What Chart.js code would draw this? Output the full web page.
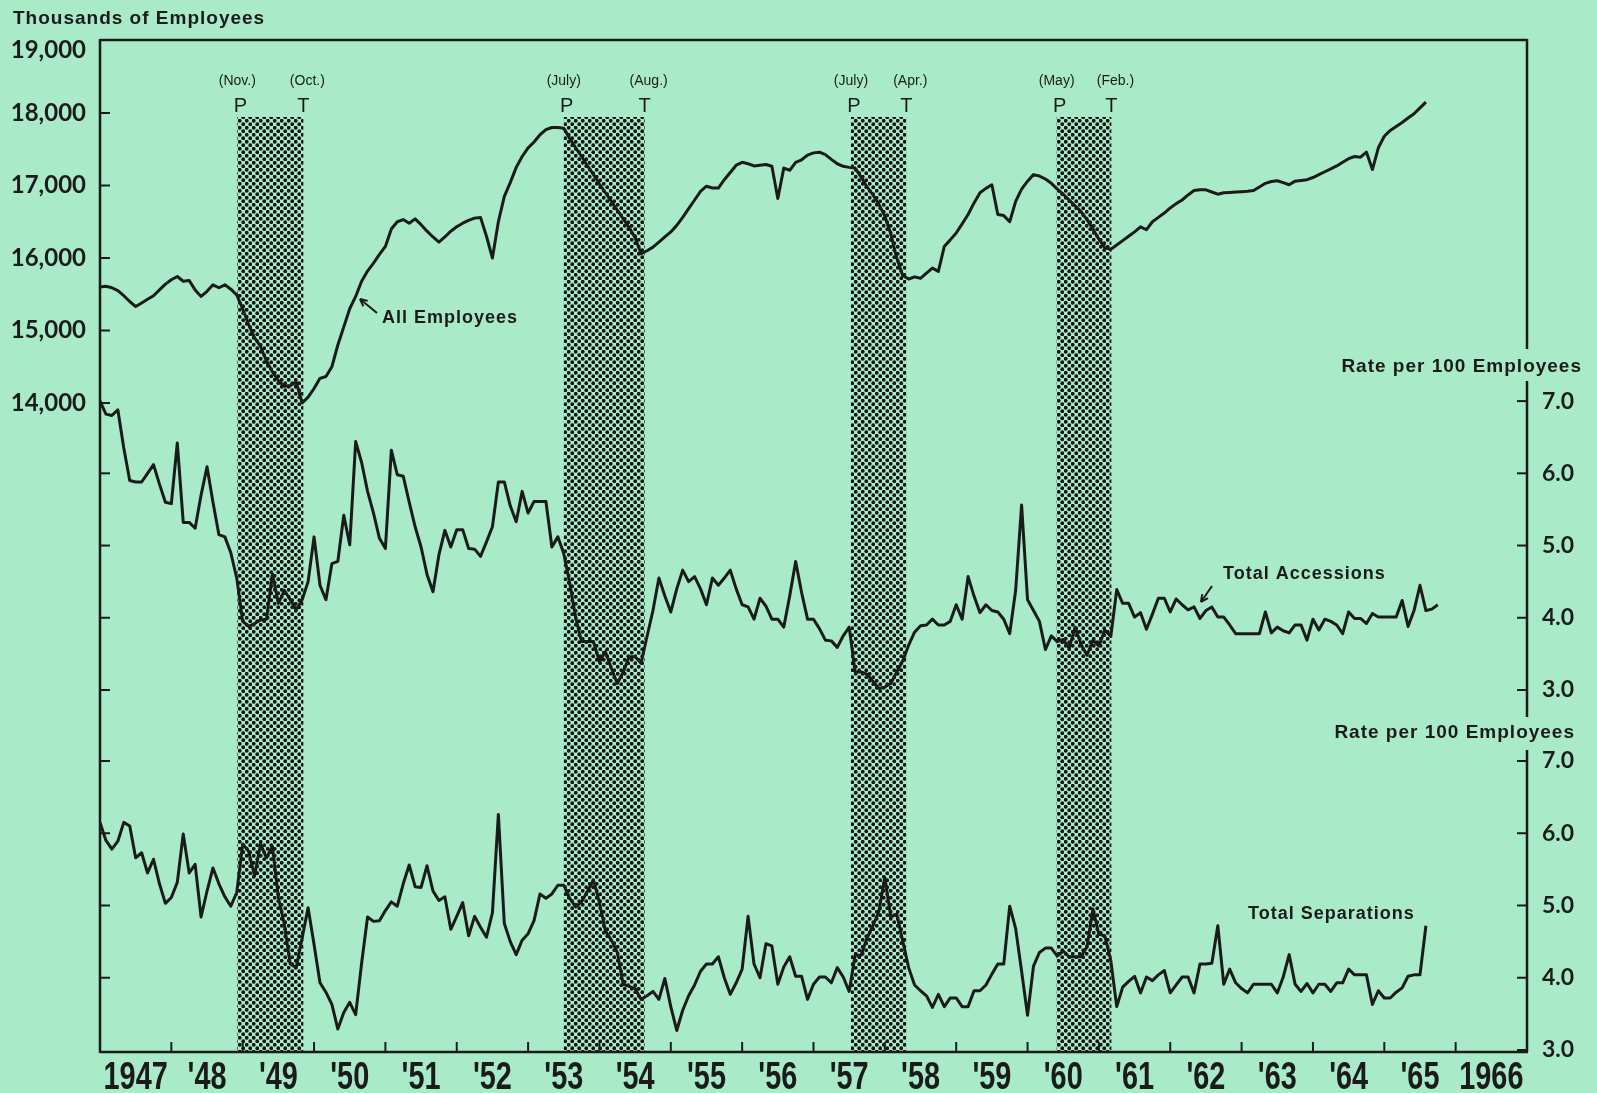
<!DOCTYPE html>
<html lang="en">
<head>
<meta charset="UTF-8">
<title>Employees, Accessions and Separations 1947-1965</title>
<script src="https://cdn.jsdelivr.net/npm/chart.js"></script>
<style>
  html, body {
    margin: 0;
    padding: 0;
    background: #a9ebc9;
  }
  #chart { display: block; }
</style>
</head>
<body>
<canvas id="chart" width="1597" height="1093"></canvas>
<script>
// x axis runs in months counted from Jan 1947 (0) to Jan 1967 (240)
const yearLabels = ['1947', "'48", "'49", "'50", "'51", "'52", "'53", "'54", "'55", "'56",
  "'57", "'58", "'59", "'60", "'61", "'62", "'63", "'64", "'65", '1966'];

// thousands of employees, monthly from Jan 1947
const employees = [
  15600, 15610, 15590, 15550, 15480, 15400, 15330, 15380, 15430, 15480, 15560, 15640,
  15700, 15745, 15680, 15690, 15560, 15470, 15540, 15630, 15590, 15630, 15570, 15490,
  15300, 15080, 14900, 14780, 14580, 14430, 14310, 14230, 14240, 14290, 14000, 14080,
  14200, 14340, 14365, 14500, 14800, 15050, 15300, 15470, 15680, 15820, 15930, 16050,
  16160, 16400, 16500, 16530, 16480, 16540, 16460, 16370, 16290, 16220, 16290, 16370,
  16430, 16480, 16520, 16550, 16560, 16300, 16000, 16500, 16850, 17040, 17250, 17400,
  17520, 17600, 17700, 17770, 17800, 17800, 17790, 17650, 17520, 17400, 17270, 17150,
  17020, 16900, 16780, 16660, 16540, 16420, 16280, 16060, 16100, 16150, 16220, 16290,
  16360, 16450, 16560, 16680, 16800, 16920, 16990, 16965, 16965, 17080, 17180, 17280,
  17320, 17300, 17270, 17280, 17290, 17265, 16820, 17240, 17210, 17320, 17355, 17420,
  17450, 17460, 17425, 17360, 17300, 17265, 17250, 17240, 17120, 16980, 16870, 16740,
  16580, 16330, 16000, 15760, 15710, 15740, 15720, 15790, 15860, 15815, 16160, 16250,
  16345, 16470, 16600, 16760, 16900, 16960, 17010, 16600, 16585, 16500, 16780, 16950,
  17060, 17150, 17130, 17090, 17030, 16950, 16880, 16800, 16720, 16640, 16530, 16400,
  16260, 16140, 16120, 16180, 16240, 16300, 16360, 16430, 16390, 16500, 16560, 16620,
  16690, 16750, 16800, 16870, 16930, 16940, 16940, 16910, 16880, 16900, 16905, 16910,
  16915, 16920, 16930, 16980, 17030, 17055, 17065, 17040, 17010, 17060, 17070, 17080,
  17110, 17150, 17190, 17230, 17270, 17320, 17370, 17400, 17390, 17460, 17220, 17520,
  17680, 17760, 17815, 17870, 17930, 17990, 18070, 18150
];

// total accessions, rate per 100 employees
const accessions = [
  7.00, 6.82, 6.80, 6.88, 6.35, 5.90, 5.88, 5.88, 6.00, 6.12, 5.85, 5.60,
  5.58, 6.42, 5.32, 5.32, 5.24, 5.70, 6.09, 5.60, 5.15, 5.12, 4.90, 4.55,
  3.95, 3.88, 3.92, 3.97, 3.98, 4.61, 4.20, 4.38, 4.25, 4.11, 4.25, 4.50,
  5.12, 4.45, 4.25, 4.75, 4.78, 5.42, 5.01, 6.44, 6.15, 5.75, 5.45, 5.10,
  4.96, 6.32, 5.98, 5.96, 5.60, 5.26, 4.98, 4.60, 4.36, 4.87, 5.21, 4.98,
  5.22, 5.22, 4.96, 4.95, 4.85, 5.05, 5.26, 5.88, 5.88, 5.55, 5.33, 5.75,
  5.45, 5.61, 5.61, 5.61, 4.98, 5.12, 4.89, 4.48, 4.00, 3.67, 3.67, 3.67,
  3.39, 3.53, 3.30, 3.09, 3.25, 3.46, 3.46, 3.37, 3.74, 4.10, 4.55, 4.30,
  4.08, 4.40, 4.66, 4.50, 4.57, 4.40, 4.18, 4.55, 4.45, 4.55, 4.66, 4.40,
  4.18, 4.15, 3.98, 4.27, 4.16, 3.98, 3.98, 3.87, 4.30, 4.78, 4.35, 3.98,
  3.98, 3.85, 3.69, 3.68, 3.59, 3.75, 3.87, 3.25, 3.25, 3.22, 3.12, 3.02,
  3.04, 3.09, 3.25, 3.40, 3.62, 3.80, 3.89, 3.90, 3.98, 3.90, 3.90, 3.95,
  4.18, 3.98, 4.57, 4.30, 4.07, 4.18, 4.10, 4.08, 3.98, 3.78, 4.38, 5.56,
  4.25, 4.10, 3.95, 3.56, 3.75, 3.67, 3.70, 3.58, 3.87, 3.63, 3.48, 3.69,
  3.61, 3.83, 3.74, 4.39, 4.20, 4.20, 4.01, 4.07, 3.84, 4.05, 4.27, 4.27,
  4.08, 4.26, 4.18, 4.11, 4.15, 3.99, 4.10, 4.15, 4.01, 4.01, 3.90, 3.78,
  3.78, 3.78, 3.78, 3.78, 4.08, 3.79, 3.87, 3.82, 3.79, 3.90, 3.90, 3.69,
  3.98, 3.83, 3.98, 3.95, 3.90, 3.78, 4.08, 3.99, 3.99, 3.92, 4.06, 4.01,
  4.01, 4.01, 4.01, 4.24, 3.88, 4.10, 4.45, 4.10, 4.12, 4.18
];

// total separations, rate per 100 employees
const separations = [
  6.15, 5.90, 5.78, 5.89, 6.15, 6.10, 5.66, 5.73, 5.45, 5.64, 5.30, 5.03,
  5.11, 5.32, 5.99, 5.45, 5.57, 4.84, 5.20, 5.52, 5.30, 5.12, 4.99, 5.18,
  5.85, 5.75, 5.41, 5.85, 5.66, 5.82, 5.11, 4.74, 4.19, 4.14, 4.55, 4.97,
  4.46, 3.93, 3.80, 3.63, 3.29, 3.52, 3.66, 3.49, 4.20, 4.84, 4.78, 4.79,
  4.93, 5.05, 4.99, 5.30, 5.56, 5.26, 5.25, 5.55, 5.20, 5.07, 5.12, 4.67,
  4.85, 5.04, 4.58, 4.85, 4.70, 4.56, 4.90, 6.26, 4.75, 4.50, 4.32, 4.52,
  4.61, 4.79, 5.16, 5.10, 5.16, 5.28, 5.28, 5.10, 4.98, 5.05, 5.20, 5.35,
  5.04, 4.65, 4.52, 4.35, 3.91, 3.88, 3.85, 3.70, 3.75, 3.81, 3.70, 3.99,
  3.60, 3.27, 3.55, 3.75, 3.90, 4.09, 4.19, 4.19, 4.29, 4.00, 3.77, 3.93,
  4.12, 4.85, 4.19, 4.00, 4.47, 4.44, 3.91, 4.15, 4.29, 4.02, 4.02, 3.70,
  3.91, 4.01, 4.01, 3.93, 4.14, 4.01, 3.81, 4.31, 4.31, 4.55, 4.72, 4.92,
  5.39, 4.84, 4.88, 4.51, 4.14, 3.90, 3.82, 3.75, 3.59, 3.77, 3.60, 3.72,
  3.72, 3.60, 3.60, 3.82, 3.82, 3.90, 4.05, 4.19, 4.19, 4.99, 4.68, 4.09,
  3.48, 4.16, 4.35, 4.41, 4.41, 4.30, 4.37, 4.29, 4.29, 4.29, 4.43, 4.95,
  4.60, 4.58, 4.24, 3.60, 3.87, 3.95, 4.02, 3.79, 4.01, 3.96, 4.04, 4.10,
  3.79, 3.90, 4.01, 4.01, 3.79, 4.19, 4.19, 4.20, 4.72, 3.91, 4.12, 3.93,
  3.85, 3.79, 3.91, 3.91, 3.91, 3.91, 3.79, 4.01, 4.32, 3.91, 3.81, 3.92,
  3.79, 3.91, 3.91, 3.81, 3.93, 3.93, 4.12, 4.04, 4.04, 4.04, 3.63, 3.82,
  3.72, 3.72, 3.80, 3.86, 4.02, 4.04, 4.04, 4.72
];

// business cycle peaks (P) and troughs (T), in months from Jan 1947
const peakMonth = [23.1, 78.0, 126.3, 160.9];
const troughMonth = [34.2, 91.6, 135.6, 170.1];
const peakLabels = ['(Nov.)', '(July)', '(July)', '(May)'];
const troughLabels = ['(Oct.)', '(Aug.)', '(Apr.)', '(Feb.)'];

const empTicks = [14000, 15000, 16000, 17000, 18000, 19000];
const rateTicks = [3, 4, 5, 6, 7];

const ink = '#1b1b1b';
const textFont = '"Liberation Sans", Arial, sans-serif';
const numFont = { family: 'Lato', size: 24, weight: 'bold' };

function asPoints(arr) {
  return arr.map((v, i) => ({ x: i, y: v }));
}

function dotTile() {
  const c = document.createElement('canvas');
  c.width = 7;
  c.height = 7;
  const g = c.getContext('2d');
  g.fillStyle = '#151515';
  [[1.75, 1.75], [5.25, 5.25]].forEach(([x, y]) => {
    g.beginPath();
    g.arc(x, y, 1.9, 0, Math.PI * 2);
    g.fill();
  });
  return c;
}

function line(ctx, x1, y1, x2, y2) {
  ctx.beginPath();
  ctx.moveTo(x1, y1);
  ctx.lineTo(x2, y2);
  ctx.stroke();
}

function arrow(ctx, x1, y1, x2, y2) {
  line(ctx, x1, y1, x2, y2);
  const a = Math.atan2(y2 - y1, x2 - x1);
  const len = 8;
  [0.45, -0.45].forEach(d => {
    line(ctx, x2, y2, x2 - len * Math.cos(a + d), y2 - len * Math.sin(a + d));
  });
}

const decor = {
  id: 'decor',
  beforeDatasetsDraw(chart) {
    const { ctx, chartArea: a, scales: { x } } = chart;
    ctx.save();
    ctx.fillStyle = ctx.createPattern(dotTile(), 'repeat');
    peakMonth.forEach((p, i) => {
      const x0 = x.getPixelForValue(p);
      const x1 = x.getPixelForValue(troughMonth[i]);
      ctx.fillRect(x0, 117, x1 - x0, a.bottom - 117);
    });
    ctx.restore();
  },
  afterDraw(chart) {
    const { ctx, chartArea: a, scales: { x, yEmp, yAcc, ySep } } = chart;
    ctx.save();
    ctx.strokeStyle = ink;
    ctx.fillStyle = ink;
    ctx.lineWidth = 2.5;

    // frame, the right side broken by the two rate titles
    const title1 = yAcc.getPixelForValue(7) - 34;
    const title2 = ySep.getPixelForValue(7) - 28;
    line(ctx, a.left, a.top, a.right, a.top);
    line(ctx, a.left, a.top - 1, a.left, a.bottom + 1);
    line(ctx, a.left, a.bottom, a.right + 1, a.bottom);
    line(ctx, a.right, a.top - 1, a.right, title1 - 18);
    line(ctx, a.right, title1 + 14, a.right, title2 - 16);
    line(ctx, a.right, title2 + 17, a.right, a.bottom);

    // inward tick marks
    ctx.lineWidth = 2;
    const t = 10;
    empTicks.slice(0, -1).forEach(v => {
      const y = yEmp.getPixelForValue(v);
      line(ctx, a.left, y, a.left + t, y);
    });
    [3, 4, 5, 6].forEach(v => {
      const y = yAcc.getPixelForValue(v);
      line(ctx, a.left, y, a.left + t, y);
    });
    [4, 5, 6, 7].forEach(v => {
      const y = ySep.getPixelForValue(v);
      line(ctx, a.left, y, a.left + t, y);
    });
    rateTicks.forEach(v => {
      const y1 = yAcc.getPixelForValue(v);
      const y2 = ySep.getPixelForValue(v);
      line(ctx, a.right - t, y1, a.right, y1);
      line(ctx, a.right - t, y2, a.right, y2);
    });
    for (let m = 12; m < 240; m += 12) {
      const px = x.getPixelForValue(m);
      line(ctx, px, a.bottom, px, a.bottom - t);
    }

    // top label sits just under the frame corner
    ctx.textAlign = 'right';
    ctx.textBaseline = 'middle';
    ctx.font = `${numFont.weight} ${numFont.size}px ${numFont.family}`;
    ctx.fillText('19,000', a.left - 14, yEmp.getPixelForValue(19000) + 10);

    // year labels, condensed, centred on each year
    ctx.textAlign = 'center';
    ctx.textBaseline = 'alphabetic';
    ctx.font = 'bold 38px ' + textFont;
    yearLabels.forEach((lab, i) => {
      ctx.save();
      ctx.translate(x.getPixelForValue(6 + 12 * i), a.bottom + 37);
      ctx.scale(0.76, 1);
      ctx.fillText(lab, 0, 0);
      ctx.restore();
    });

    // peak / trough markers
    ctx.textBaseline = 'middle';
    peakMonth.forEach((p, i) => {
      const x0 = x.getPixelForValue(p);
      const x1 = x.getPixelForValue(troughMonth[i]);
      ctx.font = '14px ' + textFont;
      ctx.fillText(peakLabels[i], x0, 81);
      ctx.fillText(troughLabels[i], x1 + 4, 81);
      ctx.font = '20px ' + textFont;
      ctx.fillText('P', x0 + 3, 106);
      ctx.fillText('T', x1, 106);
    });

    // series names
    ctx.textAlign = 'left';
    ctx.letterSpacing = '1px';
    ctx.font = 'bold 18px ' + textFont;
    ctx.fillText('All Employees', 382, 318);
    ctx.fillText('Total Accessions', 1223, 574);
    ctx.fillText('Total Separations', 1248, 914);
    ctx.lineWidth = 2;
    arrow(ctx, 377, 313, 360, 299);
    arrow(ctx, 1212, 586, 1201, 602);

    // axis titles
    ctx.font = 'bold 19px ' + textFont;
    ctx.fillText('Thousands of Employees', 13, 19);
    ctx.textAlign = 'right';
    ctx.fillText('Rate per 100 Employees', 1582, title1);
    ctx.fillText('Rate per 100 Employees', 1575, title2);
    ctx.restore();
  }
};

const lineStyle = {
  borderColor: ink,
  borderWidth: 3,
  pointRadius: 0,
  tension: 0,
  fill: false,
  borderJoinStyle: 'round'
};

const rateAxis = {
  position: 'right',
  stack: 'rates',
  grid: { display: false, drawTicks: false },
  border: { display: false },
  afterBuildTicks: s => { s.ticks = rateTicks.map(v => ({ value: v })); },
  afterFit: s => { s.width = 70; },
  ticks: {
    padding: 15,
    color: ink,
    font: { family: 'Lato', size: 23, weight: 'bold' },
    callback: v => v.toFixed(1)
  }
};

new Chart(document.getElementById('chart'), {
  type: 'line',
  data: {
    datasets: [
      { label: 'All Employees', data: asPoints(employees), yAxisID: 'yEmp', ...lineStyle },
      { label: 'Total Accessions', data: asPoints(accessions), yAxisID: 'yAcc', ...lineStyle },
      { label: 'Total Separations', data: asPoints(separations), yAxisID: 'ySep', ...lineStyle }
    ]
  },
  options: {
    responsive: false,
    animation: false,
    devicePixelRatio: 1,
    layout: { padding: { top: 40 } },
    plugins: {
      legend: { display: false },
      tooltip: { enabled: false }
    },
    scales: {
      x: {
        type: 'linear',
        position: 'bottom',
        min: 0,
        max: 240,
        grid: { display: false, drawTicks: false },
        border: { display: false },
        afterFit: s => { s.height = 41; },
        ticks: { display: false }
      },
      yEmp: {
        position: 'left',
        min: 5048,
        max: 19007,
        grid: { display: false, drawTicks: false },
        border: { display: false },
        afterBuildTicks: s => { s.ticks = empTicks.map(v => ({ value: v })); },
        afterFit: s => { s.width = 100; },
        ticks: {
          padding: 14,
          color: ink,
          font: numFont,
          // 19,000 is drawn by the plugin, a little below the corner
          callback: v => (v === 19000 ? '' : v.toLocaleString('en-US'))
        }
      },
      yAcc: { ...rateAxis, stackWeight: 672, min: 2.695, max: 12.0 },
      ySep: { ...rateAxis, stackWeight: 340, min: 2.972, max: 7.678 }
    }
  },
  plugins: [decor]
});
</script>
</body>
</html>
